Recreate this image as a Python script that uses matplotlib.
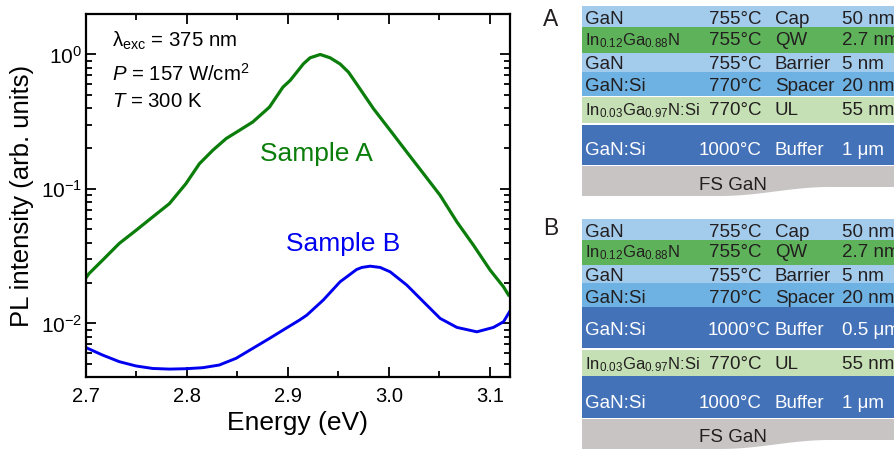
import matplotlib
matplotlib.use('Agg')
import matplotlib.pyplot as plt
import numpy as np
from matplotlib.patches import Rectangle, Polygon
from matplotlib.ticker import MultipleLocator, LogLocator, NullFormatter

plt.rcParams['font.family'] = ['Liberation Sans', 'DejaVu Sans']
plt.rcParams['mathtext.fontset'] = 'custom'
plt.rcParams['mathtext.rm'] = 'Liberation Sans'
plt.rcParams['mathtext.it'] = 'Liberation Sans:italic'
plt.rcParams['mathtext.bf'] = 'Liberation Sans:bold'

# ---- PL spectra (normalised) ----
energy_a = [2.700, 2.703, 2.7165, 2.733, 2.7496, 2.766, 2.7826, 2.799, 2.8123,
            2.8256, 2.8388, 2.852, 2.8652, 2.8817, 2.895, 2.9022, 2.9088,
            2.9154, 2.922, 2.932, 2.9418, 2.9517, 2.96, 2.968, 2.9848, 3.0013,
            3.0178, 3.0343, 3.0508, 3.0674, 3.0838, 3.1004, 3.1136, 3.1185]
pl_a = [0.0219, 0.0235, 0.0296, 0.0394, 0.0493, 0.0619, 0.0778, 0.1096, 0.154,
        0.194, 0.237, 0.273, 0.315, 0.406, 0.571, 0.641, 0.739,
        0.853, 0.945, 1.0, 0.945, 0.85, 0.739, 0.605, 0.395, 0.273,
        0.188, 0.130, 0.0897, 0.0569, 0.0382, 0.0249, 0.0187, 0.0163]

energy_b = [2.7017, 2.7165, 2.733, 2.7496, 2.766, 2.7826, 2.799, 2.8156, 2.832,
            2.8487, 2.8652, 2.8817, 2.898, 2.9114, 2.9187, 2.935, 2.9517,
            2.968, 2.9732, 2.9815, 2.9914, 3.0013, 3.0178, 3.0343, 3.0508,
            3.0674, 3.0872, 3.1036, 3.1136, 3.1195]
pl_b = [0.00653, 0.00582, 0.00520, 0.00483, 0.00463, 0.00458, 0.00461, 0.00469,
        0.00491, 0.00551, 0.00653, 0.00774, 0.00920, 0.01059, 0.01153, 0.01493,
        0.02042, 0.02518, 0.0261, 0.02667, 0.0261, 0.02421, 0.01928, 0.01449,
        0.01091, 0.00935, 0.00867, 0.00935, 0.01030, 0.01222]

# ---- layer stacks ----
IN12 = r'In$_{0.12}$Ga$_{0.88}$N'
IN03 = r'In$_{0.03}$Ga$_{0.97}$N:Si'

mat_a = ['GaN', IN12, 'GaN', 'GaN:Si', IN03, 'GaN:Si']
temp_a = ['755°C', '755°C', '755°C', '770°C', '770°C', '1000°C']
role_a = ['Cap', 'QW', 'Barrier', 'Spacer', 'UL', 'Buffer']
thick_a = ['50 nm', '2.7 nm', '5 nm', '20 nm', '55 nm', '1 μm']
kind_a = ['cap', 'qw', 'cap', 'spacer', 'ul', 'buffer']

mat_b = ['GaN', IN12, 'GaN', 'GaN:Si', 'GaN:Si', IN03, 'GaN:Si']
temp_b = ['755°C', '755°C', '755°C', '770°C', '1000°C', '770°C', '1000°C']
role_b = ['Cap', 'QW', 'Barrier', 'Spacer', 'Buffer', 'UL', 'Buffer']
thick_b = ['50 nm', '2.7 nm', '5 nm', '20 nm', '0.5 μm', '55 nm', '1 μm']
kind_b = ['cap', 'qw', 'cap', 'spacer', 'buffer', 'ul', 'buffer']

# layout of the stacks in figure pixels (y downwards)
tops_a = [6, 27.3, 52.7, 71.7, 97, 124.6, 166]
gaps_a = [0, 0, 0, 1.2, 1.2, 1.2]
text_y_a = [17.5, 38.5, 62.5, 84.5, 108.5, 148.5, 183]
temp_r_a = [762] * 6

tops_b = [219.3, 240, 265, 283.3, 307.3, 349.5, 376, 419]
gaps_b = [0, 0, 0, 0, 1.2, 0, 1.2]
text_y_b = [230.8, 250.3, 274.7, 296.3, 328.8, 362.5, 401.5, 435]
temp_r_b = [762, 762, 762, 762, 770.5, 762, 762]

FILL = {'cap': '#a3cbec', 'qw': '#5eb35a', 'spacer': '#6db2e2',
        'ul': '#c5e0b4', 'buffer': '#4472b9', 'fs': '#c8c4c4'}
DARK = '#231f20'
LAYER_FS = 13.5
ALLOY_FS = 12.0   # InGaN labels with subscripts are set a little smaller

fig = plt.figure(figsize=(8.95, 4.5), dpi=100)

# ---- PL spectra panel ----
ax = fig.add_axes([86 / 895, 73 / 450, 424 / 895, 363 / 450])
ax.plot(energy_a, pl_a, color='#0a7d0a', lw=2.3, solid_joinstyle='round')
ax.plot(energy_b, pl_b, color='#0000f0', lw=2.1, solid_joinstyle='round')
ax.set_yscale('log')
ax.set_xlim(2.7, 3.12)
ax.set_ylim(0.004, 2.0)
ax.xaxis.set_major_locator(MultipleLocator(0.1))
ax.xaxis.set_minor_locator(MultipleLocator(0.05))
ax.yaxis.set_major_locator(LogLocator(base=10))
ax.yaxis.set_minor_locator(LogLocator(base=10, subs=np.arange(2, 10)))
ax.yaxis.set_minor_formatter(NullFormatter())
ax.tick_params(which='both', direction='in', top=True, right=True, width=1.3)
ax.tick_params(which='major', length=7)
ax.tick_params(which='minor', length=4)
ax.tick_params(axis='x', labelsize=14.5, pad=7)
ax.tick_params(axis='y', labelsize=15, pad=3)
for sp in ax.spines.values():
    sp.set_linewidth(1.6)
ax.set_xlabel('Energy (eV)', fontsize=19, labelpad=4)
ax.set_ylabel('PL intensity (arb. units)', fontsize=18.5, labelpad=5)

ax.text(0.061, 0.910, r'λ$_{\mathrm{exc}}$ = 375 nm', transform=ax.transAxes,
        fontsize=14.7, va='baseline')
ax.text(0.061, 0.815, r'$\it{P}$ = 157 W/cm$^{2}$', transform=ax.transAxes,
        fontsize=14.7, va='baseline')
ax.text(0.061, 0.743, r'$\it{T}$ = 300 K', transform=ax.transAxes,
        fontsize=14.7, va='baseline')
ax.text(2.8724, 0.1606, 'Sample A', color='#0a7d0a', fontsize=19, va='baseline')
ax.text(2.8982, 0.0347, 'Sample B', color='#0000f0', fontsize=19, va='baseline')

# ---- layer stack panels (pixel coordinates) ----
sk = fig.add_axes([0, 0, 1, 1])
sk.set_xlim(0, 895)
sk.set_ylim(450, 0)
sk.axis('off')

X0, X1 = 582, 900


def draw_stack(tops, gaps, text_y, temp_r, mats, temps, roles, thicks, kinds,
               label, label_base):
    for i, kind in enumerate(kinds):
        y0 = tops[i]
        h = tops[i + 1] - y0 - gaps[i]
        sk.add_patch(Rectangle((X0, y0), X1 - X0, h, facecolor=FILL[kind],
                               edgecolor='none'))
        col = 'white' if kind == 'buffer' else DARK
        base = text_y[i] + 6.6
        mfs = ALLOY_FS if '$' in mats[i] else LAYER_FS
        sk.text(585, base, mats[i], color=col, fontsize=mfs, va='baseline')
        sk.text(temp_r[i], base, temps[i], color=col, fontsize=LAYER_FS,
                va='baseline', ha='right')
        sk.text(775, base, roles[i], color=col, fontsize=LAYER_FS, va='baseline')
        sk.text(842, base, thicks[i], color=col, fontsize=LAYER_FS, va='baseline')
    # FS GaN substrate with a wavy lower edge
    fs_top = tops[-1]
    xs = np.linspace(X0, X1, 120)
    t = np.clip((xs - 720) / 110, 0, 1)
    ys = fs_top + 25.5 + 4.5 * np.cos(np.pi * t)
    verts = [(X0, fs_top), (X1, fs_top)] + list(zip(xs[::-1], ys[::-1]))
    sk.add_patch(Polygon(verts, closed=True, facecolor=FILL['fs'],
                         edgecolor='none'))
    sk.text(733, text_y[-1] + 6.6, 'FS GaN', color=DARK, fontsize=LAYER_FS,
            va='baseline', ha='center')
    sk.text(543, label_base, label, color=DARK, fontsize=16.5, va='baseline')


draw_stack(tops_a, gaps_a, text_y_a, temp_r_a, mat_a, temp_a, role_a, thick_a,
           kind_a, 'A', 26)
draw_stack(tops_b, gaps_b, text_y_b, temp_r_b, mat_b, temp_b, role_b, thick_b,
           kind_b, 'B', 235)

fig.savefig('out.png', dpi=100)
